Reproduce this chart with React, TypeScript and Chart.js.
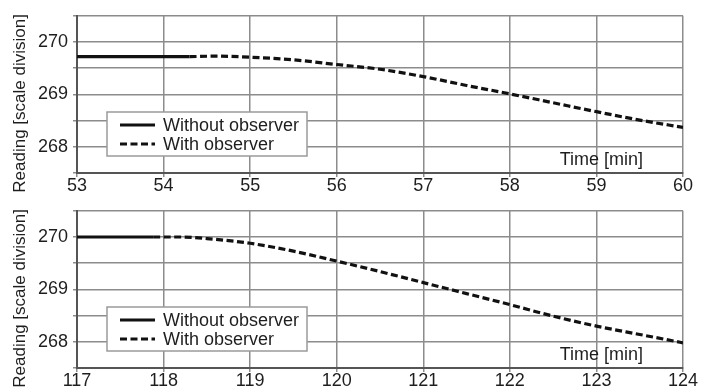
import React, { useEffect, useRef } from "react";
import { Chart, registerables } from "chart.js";
Chart.register(...registerables);

// ---- data ----
const topSolidTime = [53, 54.3];
const topSolidReading = [269.72, 269.72];
const topDashTime = [54.3, 54.6, 55, 55.5, 56, 56.5, 57, 57.5, 58, 58.5, 59, 59.5, 60];
const topDashReading = [269.72, 269.73, 269.71, 269.66, 269.57, 269.48, 269.34, 269.17, 269.01, 268.84, 268.67, 268.51, 268.37];

const botSolidTime = [117, 117.88];
const botSolidReading = [270.0, 270.0];
const botDashTime = [117.88, 118.2, 118.5, 119, 119.5, 120, 120.5, 121, 121.5, 122, 122.5, 123, 123.5, 124];
const botDashReading = [270.0, 270.0, 269.97, 269.88, 269.73, 269.54, 269.34, 269.13, 268.92, 268.71, 268.49, 268.3, 268.14, 267.98];

const topXRange = [53, 60];
const botXRange = [117, 124];
const yRange = [267.5, 270.5];

const labelSolid = "Without observer";
const labelDash = "With observer";
const xTitle = "Time [min]";
const yTitle = "Reading [scale division]";

const FONT = '"Liberation Sans", Arial, Helvetica, sans-serif';
const TEXT = "#1e1e1e";

const overlay = {
  id: "overlay",
  afterDraw(chart: any) {
    const { ctx, chartArea } = chart;
    const { left, right, top, bottom } = chartArea;
    ctx.save();
    // legend box
    const bw = 200, bh = 44;
    const bx = left + 30, by = bottom - 17 - bh;
    ctx.fillStyle = "#fff";
    ctx.fillRect(bx, by, bw, bh);
    ctx.strokeStyle = "#9a9a9a";
    ctx.lineWidth = 1.5;
    ctx.strokeRect(bx, by, bw, bh);
    ctx.font = `18px ${FONT}`;
    ctx.textBaseline = "middle";
    ctx.textAlign = "left";
    chart.data.datasets.forEach((ds: any, i: number) => {
      const ly = by + 13 + i * 19;
      ctx.beginPath();
      ctx.setLineDash(ds.borderDash || []);
      ctx.strokeStyle = ds.borderColor;
      ctx.lineWidth = 3.2;
      ctx.moveTo(bx + 13, ly);
      ctx.lineTo(bx + 48, ly);
      ctx.stroke();
      ctx.setLineDash([]);
      ctx.fillStyle = TEXT;
      ctx.fillText(ds.label, bx + 56, ly + 1);
    });
    // x title inside plot
    ctx.textAlign = "right";
    ctx.fillText(xTitle, right - 40, bottom - 13);
    // y title
    ctx.translate(20, (top + bottom) / 2 + 9);
    ctx.rotate(-Math.PI / 2);
    ctx.textAlign = "center";
    ctx.font = `17px ${FONT}`;
    ctx.fillText(yTitle, 0, 0);
    ctx.restore();
  },
};

function makeConfig(sx: number[], sy: number[], dx: number[], dy: number[], xr: number[], padTop: number): any {
  return {
    type: "line",
    data: {
      datasets: [
        {
          label: labelSolid,
          data: sx.map((x, i) => ({ x, y: sy[i] })),
          borderColor: "#111",
          borderWidth: 3.2,
          pointRadius: 0,
          fill: false,
        },
        {
          label: labelDash,
          data: dx.map((x, i) => ({ x, y: dy[i] })),
          borderColor: "#111",
          borderWidth: 3.2,
          borderDash: [7, 3.5],
          pointRadius: 0,
          cubicInterpolationMode: "monotone",
          fill: false,
        },
      ],
    },
    options: {
      animation: false,
      responsive: false,
      maintainAspectRatio: false,
      layout: { padding: { left: 0, right: 29, top: padTop, bottom: 0 } },
      plugins: { legend: { display: false }, tooltip: { enabled: false } },
      scales: {
        x: {
          type: "linear",
          min: xr[0],
          max: xr[1],
          ticks: { stepSize: 1, color: TEXT, font: { size: 18, family: FONT }, padding: -2, maxRotation: 0 },
          grid: { color: "#8c8c8c", lineWidth: 1.5, tickLength: 4 },
          border: { color: "#555", width: 2 },
          afterFit: (s: any) => { s.height = 22; },
        },
        y: {
          min: yRange[0],
          max: yRange[1],
          ticks: {
            stepSize: 0.5,
            color: TEXT,
            font: { size: 18, family: FONT },
            padding: 5,
            callback: (v: any) => (Number.isInteger(v) ? String(v) : ""),
          },
          grid: { color: "#8c8c8c", lineWidth: 1.5, tickLength: 4 },
          border: { color: "#555", width: 2 },
          afterFit: (s: any) => { s.width = 77; },
        },
      },
    },
    plugins: [overlay],
  };
}

export default function App() {
  const topRef = useRef<HTMLCanvasElement>(null);
  const botRef = useRef<HTMLCanvasElement>(null);
  useEffect(() => {
    Chart.defaults.font.family = FONT;
    const c1 = new Chart(topRef.current as any, makeConfig(topSolidTime, topSolidReading, topDashTime, topDashReading, topXRange, 12));
    const c2 = new Chart(botRef.current as any, makeConfig(botSolidTime, botSolidReading, botDashTime, botDashReading, botXRange, 12));
    return () => { c1.destroy(); c2.destroy(); };
  }, []);
  return (
    <div style={{ position: "absolute", left: 0, top: 0, width: 712, height: 390, background: "#fff" }}>
      <canvas ref={topRef} width={712} height={195} style={{ position: "absolute", left: 0, top: 0 }} />
      <canvas ref={botRef} width={712} height={195} style={{ position: "absolute", left: 0, top: 195 }} />
    </div>
  );
}
